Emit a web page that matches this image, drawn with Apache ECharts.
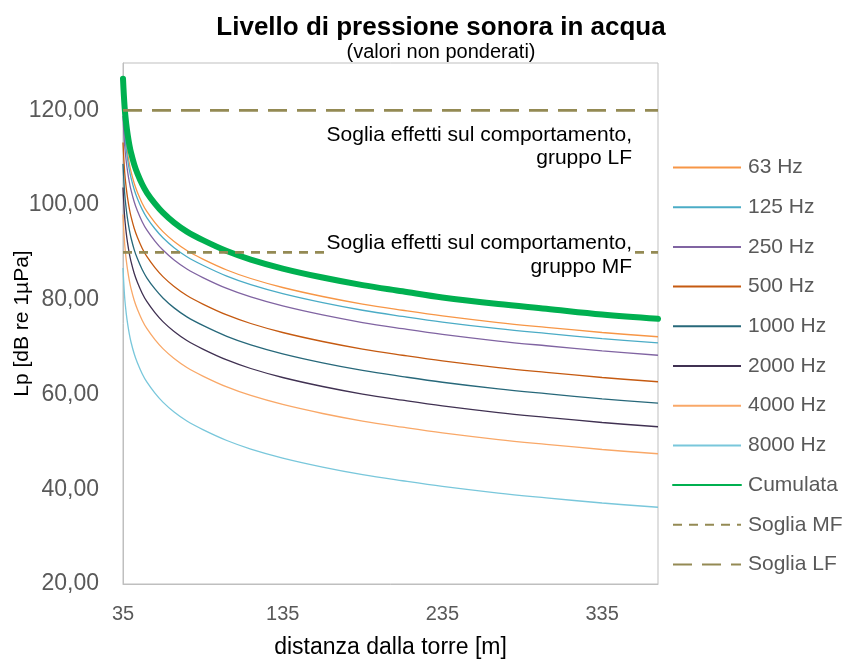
<!DOCTYPE html>
<html>
<head>
<meta charset="utf-8">
<script src="https://cdn.jsdelivr.net/npm/echarts@6/dist/echarts.min.js"></script>
<style>html,body{margin:0;padding:0;background:#fff}#c{width:845px;height:659px}</style>
</head>
<body>
<div id="c"></div>
<script>
// distance from tower [m]
const distances = [35,36,37,38,39,40,42,44,47,50,55,60,67,75,85,100,115,135,160,185,210,235,270,300,335,370];
// Lp [dB re 1µPa] per band
const hz63   = [122.7,116.7,113.2,110.7,108.7,107.1,104.6,102.7,100.4,98.6,96.3,94.4,92.3,90.4,88.6,86.3,84.5,82.6,80.7,79.1,77.8,76.6,75.2,74.2,73.1,72.2];
const hz125  = [121.4,115.4,111.9,109.4,107.4,105.8,103.3,101.4,99.1,97.3,95.0,93.1,91.0,89.1,87.3,85.0,83.2,81.3,79.4,77.8,76.5,75.3,73.9,72.9,71.8,70.9];
const hz250  = [118.8,112.8,109.3,106.8,104.8,103.2,100.7,98.8,96.5,94.7,92.4,90.5,88.4,86.5,84.7,82.4,80.6,78.7,76.8,75.2,73.9,72.7,71.3,70.3,69.2,68.3];
const hz500  = [113.2,107.2,103.7,101.2,99.2,97.6,95.1,93.2,90.9,89.1,86.8,84.9,82.8,80.9,79.1,76.8,75.0,73.1,71.2,69.6,68.3,67.1,65.7,64.7,63.6,62.7];
const hz1000 = [108.7,102.7,99.2,96.7,94.7,93.1,90.6,88.7,86.4,84.6,82.3,80.4,78.3,76.4,74.6,72.3,70.5,68.6,66.7,65.1,63.8,62.6,61.2,60.2,59.1,58.2];
const hz2000 = [103.7,97.7,94.2,91.7,89.7,88.1,85.6,83.7,81.4,79.6,77.3,75.4,73.3,71.4,69.6,67.3,65.5,63.6,61.7,60.1,58.8,57.6,56.2,55.2,54.1,53.2];
const hz4000 = [98.0,92.0,88.5,86.0,84.0,82.4,79.9,78.0,75.7,73.9,71.6,69.7,67.6,65.7,63.9,61.6,59.8,57.9,56.0,54.4,53.1,51.9,50.5,49.5,48.4,47.5];
const hz8000 = [86.7,80.7,77.2,74.7,72.7,71.1,68.6,66.7,64.4,62.6,60.3,58.4,56.3,54.4,52.6,50.3,48.5,46.6,44.7,43.1,41.8,40.6,39.2,38.2,37.1,36.2];
const cumulata = [126.7,120.7,117.2,114.7,112.7,111.1,108.6,106.7,104.4,102.6,100.3,98.4,96.3,94.4,92.6,90.3,88.5,86.6,84.7,83.1,81.8,80.5,79.1,78.1,76.9,76.0];
// thresholds
const thresholdX = [35, 370];
const sogliaMF = [90, 90];
const sogliaLF = [120, 120];
const seriesNames = ['63 Hz','125 Hz','250 Hz','500 Hz','1000 Hz','2000 Hz','4000 Hz','8000 Hz','Cumulata','Soglia MF','Soglia LF'];
const labelLF = 'Soglia effetti sul comportamento,\ngruppo LF';
const labelMF1 = 'Soglia effetti sul comportamento,';
const labelMF2 = 'gruppo MF';

const FONT = "'Liberation Sans', Arial, sans-serif";
const pairs = (xs, ys) => xs.map((x, i) => [x, ys[i]]);

const bandSeries = [
  [hz63, '#F79646'], [hz125, '#4BACC6'], [hz250, '#8064A2'], [hz500, '#C55A11'],
  [hz1000, '#27687A'], [hz2000, '#403152'], [hz4000, '#F9A868'], [hz8000, '#79C7DB']
].map(([vals, col], i) => ({
  name: seriesNames[i], type: 'line', data: pairs(distances, vals),
  smooth: 0.35, symbol: 'none', showSymbol: false,
  lineStyle: { color: col, width: 1.3 }, itemStyle: { color: col }
}));

const series = bandSeries.concat([
  { name: 'Cumulata', type: 'line', data: pairs(distances, cumulata), smooth: 0.35,
    symbol: 'none', showSymbol: false, lineStyle: { color: '#00B050', width: 6, cap: 'round' }, itemStyle: { color: '#00B050' } },
  { name: 'Soglia MF', type: 'line', data: pairs(thresholdX, sogliaMF), symbol: 'none', showSymbol: false,
    lineStyle: { color: '#948A54', width: 2.7, type: [9, 7] }, itemStyle: { color: '#948A54' } },
  { name: 'Soglia LF', type: 'line', data: pairs(thresholdX, sogliaLF), symbol: 'none', showSymbol: false,
    lineStyle: { color: '#948A54', width: 2.7, type: [19, 10] }, itemStyle: { color: '#948A54' } }
]);

const chart = echarts.init(document.getElementById('c'), null, { renderer: 'canvas' });
chart.setOption({
  animation: false,
  textStyle: { fontFamily: FONT },
  title: {
    text: 'Livello di pressione sonora in acqua',
    subtext: '(valori non ponderati)',
    left: 436, top: 10, textAlign: 'center', itemGap: 1,
    textStyle: { fontFamily: FONT, fontSize: 26, fontWeight: 'bold', color: '#000' },
    subtextStyle: { fontFamily: FONT, fontSize: 20, color: '#000' }
  },
  grid: { left: 123, top: 63, right: 187, bottom: 75, show: true, borderColor: '#BFBFBF', borderWidth: 1,
    containLabel: false, outerBoundsMode: 'none' },
  legend: {
    orient: 'vertical', left: 672, top: 157, padding: 0, itemWidth: 68, itemHeight: 14, itemGap: 18.7,
    data: seriesNames, itemStyle: { opacity: 0 },
    textStyle: { fontFamily: FONT, fontSize: 21, color: '#595959', padding: [0, 0, 0, 2] }
  },
  xAxis: {
    type: 'value', min: 35, max: 370, interval: 100,
    name: 'distanza dalla torre [m]', nameLocation: 'middle', nameGap: 52, nameMoveOverlap: false,
    nameTextStyle: { fontFamily: FONT, fontSize: 23, color: '#000' },
    axisLine: { lineStyle: { color: '#BFBFBF' } }, axisTick: { show: false }, splitLine: { show: false },
    axisLabel: { fontFamily: FONT, fontSize: 20, color: '#595959', margin: 20, showMaxLabel: false }
  },
  yAxis: {
    type: 'value', min: 20, max: 130, interval: 20,
    name: 'Lp [dB re 1µPa]', nameLocation: 'middle', nameGap: 90, nameRotate: 90, nameMoveOverlap: false,
    nameTextStyle: { fontFamily: FONT, fontSize: 21, color: '#000' },
    axisLine: { show: true, lineStyle: { color: '#BFBFBF' } }, axisTick: { show: false }, splitLine: { show: false },
    axisLabel: { fontFamily: FONT, fontSize: 23, color: '#595959', margin: 24, showMaxLabel: false,
      formatter: v => v.toFixed(2).replace('.', ',') }
  },
  series: series
});

const xRight = chart.convertToPixel({ xAxisIndex: 0 }, 370);
const yLF = chart.convertToPixel({ yAxisIndex: 0 }, 120);
const yMF = chart.convertToPixel({ yAxisIndex: 0 }, 90);
chart.setOption({
  graphic: [
    { type: 'text', x: xRight - 26, y: yLF + 13, z: 100,
      style: { text: labelLF, align: 'right', verticalAlign: 'top', font: '21px ' + FONT, lineHeight: 23.5, fill: '#000' } },
    { type: 'text', x: xRight - 24, y: yMF - 21, z: 100,
      style: { text: labelMF1, align: 'right', verticalAlign: 'top', font: '21px ' + FONT, lineHeight: 23.5, fill: '#000',
        backgroundColor: '#fff', padding: [0, 2, 2, 2] } },
    { type: 'text', x: xRight - 26, y: yMF + 2.5, z: 100,
      style: { text: labelMF2, align: 'right', verticalAlign: 'top', font: '21px ' + FONT, lineHeight: 23.5, fill: '#000' } }
  ]
});
</script>
</body>
</html>
